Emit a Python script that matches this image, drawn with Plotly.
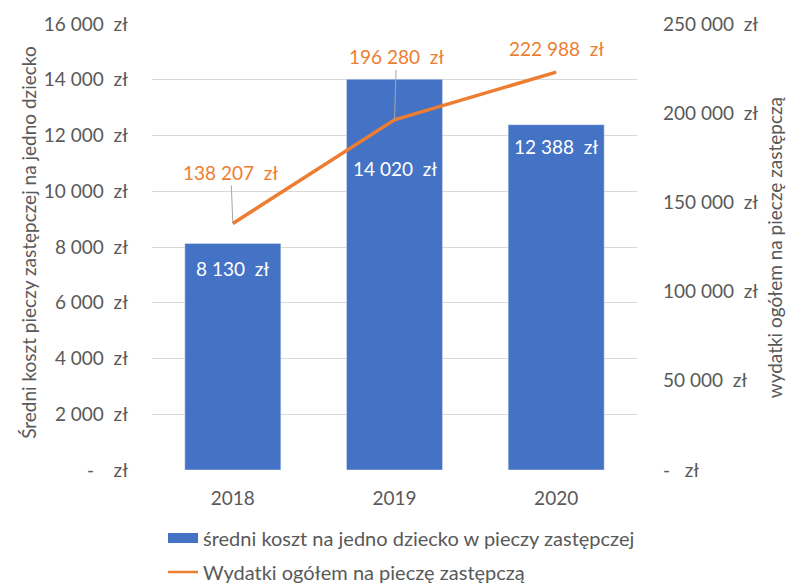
import plotly.graph_objects as go

years = ["2018", "2019", "2020"]
avg_cost = [8130, 14020, 12388]
total_spend = [138207, 196280, 222988]

left_ticks = [0, 2000, 4000, 6000, 8000, 10000, 12000, 14000, 16000]
right_ticks = [0, 50000, 100000, 150000, 200000, 250000]

NB = "\u00a0"
FONT = "Lato"
GRAY = "#595959"
BLUE = "#4472C4"
ORANGE = "#ED7D31"
FS = 19


def pln(v):
    if v == 0:
        return "-" + NB * 4 + "zł"
    return f"{v:,}".replace(",", NB) + NB * 2 + "zł"


def pln_right(v):
    if v == 0:
        return "-" + NB * 3 + "zł"
    return f"{v:,}".replace(",", NB) + NB * 2 + "zł"


fig = go.Figure()
fig.add_trace(go.Bar(x=years, y=avg_cost, marker_color=BLUE, width=0.594,
                     showlegend=False, hoverinfo="skip"))
fig.add_trace(go.Scatter(x=years, y=total_spend, yaxis="y2", mode="lines",
                         line=dict(color=ORANGE, width=3.5), showlegend=False,
                         hoverinfo="skip"))
# legend proxies
fig.add_trace(go.Scatter(x=[years[0]], y=[None], mode="lines", line=dict(color=BLUE, width=10),
                         name="średni koszt na jedno dziecko w pieczy zastępczej", legend="legend"))
fig.add_trace(go.Scatter(x=[years[0]], y=[None], mode="lines", line=dict(color=ORANGE, width=2.5),
                         name="Wydatki ogółem na pieczę zastępczą", legend="legend2"))

# bar labels (x given as category index)
bar_label_shift = [-25, -89, -22]
for i, (v, s) in enumerate(zip(avg_cost, bar_label_shift)):
    fig.add_annotation(x=i, y=v, yref="y", text=pln(v), showarrow=False, yshift=s,
                       font=dict(family=FONT, size=FS, color="white"))

# line labels
line_label_off = [(-2, -51, True), (2, -63, True), (0, -24, False)]
for i, (v, (ax, ay, arrow)) in enumerate(zip(total_spend, line_label_off)):
    if arrow:
        fig.add_annotation(x=i, y=v, yref="y2", text=pln(v), showarrow=True,
                           ax=ax, ay=ay, arrowhead=0, arrowwidth=1, arrowcolor="#A6A6A6",
                           standoff=0, font=dict(family=FONT, size=FS, color=ORANGE))
    else:
        fig.add_annotation(x=i, y=v, yref="y2", text=pln(v), showarrow=False, yshift=-ay,
                           font=dict(family=FONT, size=FS, color=ORANGE))

# axis titles
fig.add_annotation(xref="paper", yref="paper", x=-0.255, y=0.51, textangle=-90,
                   xanchor="center", yanchor="middle",
                   text="Średni koszt pieczy zastępczej na jedno dziecko", showarrow=False,
                   font=dict(family=FONT, size=FS, color=GRAY))
fig.add_annotation(xref="paper", yref="paper", x=1.283, y=0.5, textangle=-90,
                   xanchor="center", yanchor="middle",
                   text="wydatki ogółem na pieczę zastępczą", showarrow=False,
                   font=dict(family=FONT, size=FS, color=GRAY))

fig.update_layout(
    width=786, height=575,
    margin=dict(l=144, r=157, t=16, b=113, autoexpand=False),
    paper_bgcolor="white", plot_bgcolor="white",
    font=dict(family=FONT, size=FS, color=GRAY),
    xaxis=dict(type="category", showgrid=False, showline=False, ticks="",
               tickfont=dict(size=FS, color=GRAY), ticklabelstandoff=15, automargin=False),
    yaxis=dict(range=[0, 16000], tickvals=left_ticks, ticktext=[pln(v) for v in left_ticks],
               showgrid=True, gridcolor="#D9D9D9", gridwidth=1, zeroline=False,
               showline=False, ticks="", ticklabelstandoff=23, automargin=False,
               tickfont=dict(size=FS, color=GRAY)),
    yaxis2=dict(range=[0, 250000], overlaying="y", side="right", tickvals=right_ticks,
                ticktext=[pln_right(v) for v in right_ticks], showgrid=False,
                zeroline=False, showline=False, ticks="", ticklabelstandoff=25, automargin=False,
                tickfont=dict(size=FS, color=GRAY)),
    legend=dict(x=0.0227, y=-0.1525, xanchor="left", yanchor="middle", bgcolor="rgba(0,0,0,0)",
                font=dict(size=20, color=GRAY), itemwidth=30),
    legend2=dict(x=0.0227, y=-0.2287, xanchor="left", yanchor="middle", bgcolor="rgba(0,0,0,0)",
                 font=dict(size=20, color=GRAY), itemwidth=30),
)

fig.write_html("out.html")
